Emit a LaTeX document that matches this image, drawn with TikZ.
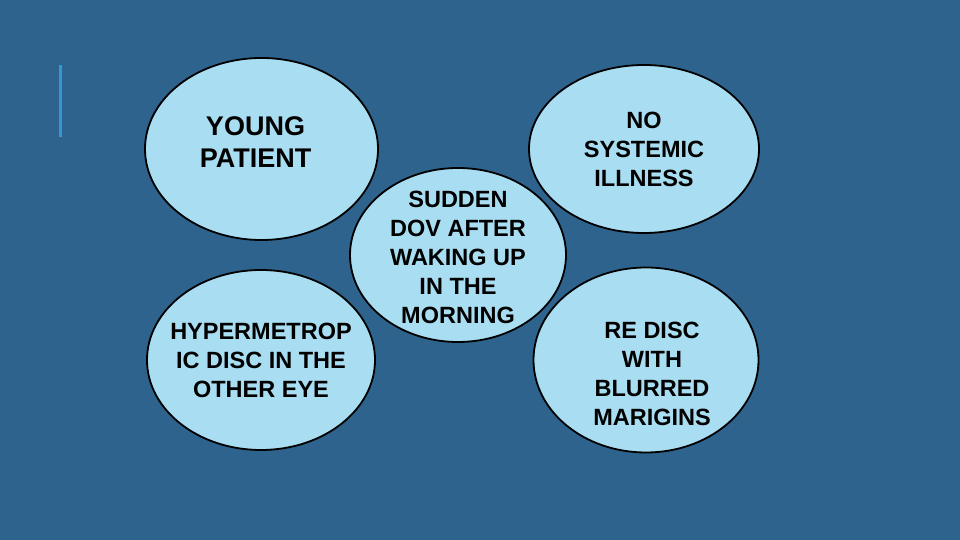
\documentclass[tikz,border=0pt]{standalone}
\usepackage{fontspec}
\setmainfont{Liberation Sans}
\usetikzlibrary{shapes.geometric}
\definecolor{bgblue}{RGB}{46,99,141}
\definecolor{bubble}{RGB}{168,221,242}
\definecolor{accent}{RGB}{52,152,214}
\tikzset{
  bubblebox/.style={ellipse, draw=black, line width=1.8pt, fill=bubble, inner sep=0pt},
  bubbletext/.style={align=center, text=black, font=\fontsize{23.5}{29}\selectfont\bfseries, inner sep=0pt},
}
\begin{document}
\begin{tikzpicture}[x=1pt,y=1pt]
\fill[bgblue] (0,0) rectangle (960,540);
\useasboundingbox (0,0) rectangle (960,540);
% left accent bar
\coordinate (bartop) at (60,475);
\coordinate (barbot) at (60,403);
\draw[accent, line width=3pt] (bartop) -- (barbot);
% bubbles
\node[bubblebox, minimum width=233pt, minimum height=182pt] (young) at (261.5,391) {};
\node[bubblebox, minimum width=228pt, minimum height=180pt] (hyper) at (261,180) {};
\node[bubblebox, minimum width=216pt, minimum height=174pt] (sudden) at (458,285) {};
\node[bubblebox, minimum width=230pt, minimum height=168pt] (nosys) at (644,391) {};
\node[bubblebox, minimum width=225pt, minimum height=185pt] (redisc) at (646,180) {};
% texts
\node[bubbletext, font=\fontsize{27}{32}\selectfont\bfseries] (youngt) at ([xshift=-6pt,yshift=7pt]young.center) {YOUNG\\PATIENT};
\node[bubbletext] (hypert) at ([yshift=0pt]hyper.center) {HYPERMETROP\\IC DISC IN THE\\OTHER EYE};
\node[bubbletext] (suddent) at ([yshift=-2pt]sudden.center) {SUDDEN\\DOV AFTER\\WAKING UP\\IN THE\\MORNING};
\node[bubbletext] (nosyst) at (nosys.center) {NO\\SYSTEMIC\\ILLNESS};
\node[bubbletext] (redisct) at ([xshift=6pt,yshift=-14pt]redisc.center) {RE DISC\\WITH\\BLURRED\\MARIGINS};
\end{tikzpicture}
\end{document}
